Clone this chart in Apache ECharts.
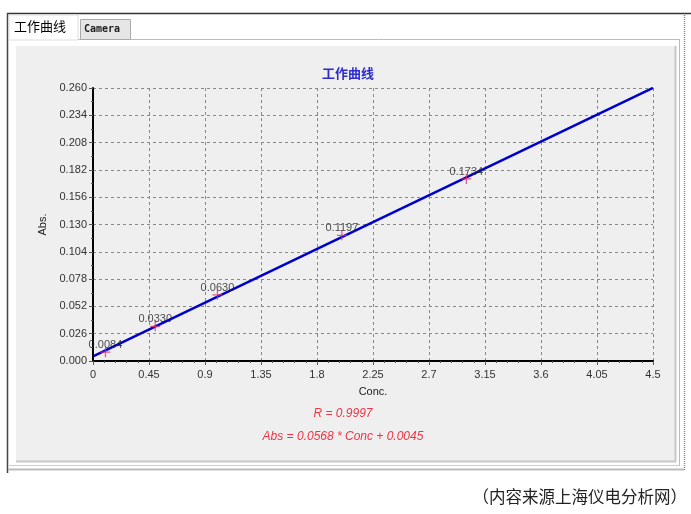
<!DOCTYPE html>
<html><head><meta charset="utf-8">
<script src="https://cdn.jsdelivr.net/npm/echarts@6/dist/echarts.min.js"></script>
<style>html,body{margin:0;padding:0;background:#fff;}#c{width:691px;height:514px;}</style>
</head><body><div id="c"></div>
<script>
// Calibration standards
const concValues = [0.1, 0.5, 1.0, 2.0, 3.0];
const absValues = [0.0084, 0.0330, 0.0630, 0.1197, 0.1734];
const absLabels = ['0.0084', '0.0330', '0.0630', '0.1197', '0.1734'];
// Fitted line endpoints
const fitConc = [0, 4.5];
const fitAbs = [0.0045, 0.2601];
// Axis settings
const xTicks = ['0','0.45','0.9','1.35','1.8','2.25','2.7','3.15','3.6','4.05','4.5'];
const yTickDecimals = 3;
const chartTitle = '工作曲线';
const tabNames = ['工作曲线', 'Camera'];
const rText = 'R = 0.9997';
const eqText = 'Abs = 0.0568 * Conc + 0.0045';
const footer = '（内容来源上海仪电分析网）';

const chart = echarts.init(document.getElementById('c'), null, {renderer: 'canvas'});
const font = 'Arial, "Liberation Sans", sans-serif';
const option = {
  backgroundColor: '#ffffff',
  animation: false,
  graphic: [
    // outer window frame
    {type: 'line', shape: {x1: 7, y1: 13.5, x2: 691, y2: 13.5}, style: {stroke: '#333', lineWidth: 1.5}, z: 0},
    {type: 'line', shape: {x1: 7.5, y1: 13, x2: 7.5, y2: 473}, style: {stroke: '#444', lineWidth: 1.5}, z: 0},
    {type: 'line', shape: {x1: 684.5, y1: 15, x2: 684.5, y2: 470}, style: {stroke: '#888', lineWidth: 1.5, lineDash: [1, 1]}, z: 0},
    {type: 'line', shape: {x1: 8, y1: 469.5, x2: 684, y2: 469.5}, style: {stroke: '#bbb', lineWidth: 2}, z: 0},
    // tab panel border
    {type: 'line', shape: {x1: 78, y1: 39.5, x2: 679, y2: 39.5}, style: {stroke: '#bbb', lineWidth: 1}, z: 0},
    {type: 'line', shape: {x1: 679.5, y1: 39, x2: 679.5, y2: 465}, style: {stroke: '#bbb', lineWidth: 1}, z: 0},
    {type: 'line', shape: {x1: 9, y1: 465.5, x2: 680, y2: 465.5}, style: {stroke: '#ccc', lineWidth: 1}, z: 0},
    // selected tab
    {type: 'rect', shape: {x: 9, y: 15, width: 69, height: 25}, style: {fill: '#fff', stroke: '#ddd', lineWidth: 1}, z: 1},
    {type: 'text', x: 14, y: 20, style: {text: tabNames[0], font: '13px "Noto Sans CJK SC", sans-serif', fill: '#000'}, z: 2},
    // unselected tab
    {type: 'rect', shape: {x: 80.5, y: 19.5, width: 50, height: 20}, style: {fill: '#e6e6e6', stroke: '#aaa', lineWidth: 1}, z: 1},
    {type: 'text', x: 84, y: 24, style: {text: tabNames[1], font: 'bold 10px "DejaVu Sans Mono", monospace', fill: '#222'}, z: 2},
    // inner chart panel
    {type: 'rect', shape: {x: 16, y: 46, width: 660, height: 416}, style: {fill: '#efefef', stroke: null}, z: 0},
    {type: 'line', shape: {x1: 16, y1: 461.5, x2: 676, y2: 461.5}, style: {stroke: '#c8c8c8', lineWidth: 2}, z: 0},
    {type: 'line', shape: {x1: 675.5, y1: 46, x2: 675.5, y2: 462}, style: {stroke: '#c8c8c8', lineWidth: 2}, z: 0},
    // fit statistics
    {type: 'text', x: 343, y: 414, style: {text: rText, font: 'italic 12px ' + font, fill: '#ee3344', align: 'center', verticalAlign: 'middle'}, z: 5},
    {type: 'text', x: 343, y: 437, style: {text: eqText, font: 'italic 12px ' + font, fill: '#ee3344', align: 'center', verticalAlign: 'middle'}, z: 5},
    // footer
    {type: 'text', x: 687, y: 497, style: {text: footer, font: '16.5px "Noto Sans CJK SC", sans-serif', fill: '#222', align: 'right', verticalAlign: 'middle'}, z: 5}
  ],
  title: {
    text: chartTitle, left: 343, top: 62, textAlign: 'center',
    textStyle: {color: '#2b2bd0', fontSize: 13, fontWeight: 'bold', fontFamily: '"Noto Sans CJK SC", sans-serif'}
  },
  grid: {left: 93, right: 38, top: 88, bottom: 153, show: true, backgroundColor: '#f2f2f2', borderColor: '#222', borderWidth: 1.5},
  xAxis: {
    type: 'value', min: 0, max: 4.5, interval: 0.45,
    name: 'Conc.', nameLocation: 'middle', nameGap: 25,
    nameTextStyle: {color: '#222', fontSize: 11, fontFamily: font},
    axisLine: {show: true, onZero: false, lineStyle: {color: '#000', width: 2}},
    axisTick: {show: true, length: 4, lineStyle: {color: '#555'}},
    minorTick: {show: true, splitNumber: 5, length: 2, lineStyle: {color: '#555'}},
    axisLabel: {color: '#333', fontSize: 11, fontFamily: font, margin: 8,
      formatter: function (v, i) { return xTicks[Math.round(v / 0.45)]; }},
    splitLine: {show: true, lineStyle: {color: '#888', type: [3, 3], width: 1}}
  },
  yAxis: {
    type: 'value', min: 0, max: 0.26, interval: 0.026,
    name: 'Abs.', nameLocation: 'middle', nameGap: 40, nameRotate: 90,
    nameTextStyle: {color: '#222', fontSize: 11, fontFamily: font},
    axisLine: {show: true, onZero: false, lineStyle: {color: '#000', width: 2}},
    axisTick: {show: true, length: 4, lineStyle: {color: '#555'}},
    minorTick: {show: true, splitNumber: 2, length: 2, lineStyle: {color: '#555'}},
    axisLabel: {color: '#333', fontSize: 11, fontFamily: font, margin: 6,
      formatter: function (v) { return v.toFixed(yTickDecimals); }},
    splitLine: {show: true, lineStyle: {color: '#888', type: [3, 3], width: 1}}
  },
  series: [
    {
      type: 'line', name: 'fit', data: fitConc.map((c, i) => [c, fitAbs[i]]),
      showSymbol: false, symbol: 'none', lineStyle: {color: '#0000cc', width: 2.5}, z: 3, silent: true
    },
    {
      type: 'scatter', name: 'std', z: 4,
      data: concValues.map((c, i) => [c, absValues[i]]),
      symbol: 'path://M5,0 L5,10 M0,5 L10,5', symbolSize: 10,
      itemStyle: {color: 'none', borderColor: '#e0306a', borderWidth: 1.2},
      label: {show: true, position: 'top', distance: 0, offset: [0, 6], color: '#222', fontSize: 11, fontFamily: font,
        formatter: function (p) { return absLabels[p.dataIndex]; }}
    }
  ]
};
chart.setOption(option);
</script></body></html>
